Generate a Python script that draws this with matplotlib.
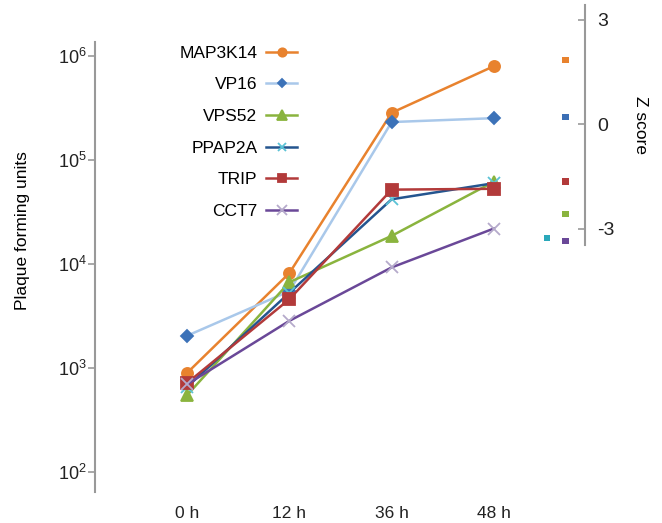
import numpy as np
import matplotlib
matplotlib.use('Agg')
import matplotlib.pyplot as plt

plt.rcParams['font.family'] = ['Liberation Sans', 'DejaVu Sans']
plt.rcParams['mathtext.fontset'] = 'custom'
plt.rcParams['mathtext.rm'] = 'Liberation Sans'
plt.rcParams['mathtext.it'] = 'Liberation Sans'
plt.rcParams['mathtext.bf'] = 'Liberation Sans:bold'
plt.rcParams['axes.unicode_minus'] = False

# data
times = ['0 h', '12 h', '36 h', '48 h']
genes = ['MAP3K14', 'VP16', 'VPS52', 'PPAP2A', 'TRIP', 'CCT7']
map3k14 = [900, 8200, 2.85e5, 8.0e5]
vp16 = [2050, 5500, 2.32e5, 2.53e5]
vps52 = [550, 6700, 1.87e4, 6.2e4]
ppap2a = [660, 5300, 4.2e4, 6.0e4]
trip = [720, 4600, 5.2e4, 5.3e4]
cct7 = [700, 2850, 9.3e3, 2.2e4]
zscores = [1.84, 0.2, -2.58, -3.27, -1.64, -3.36]

series = [map3k14, vp16, vps52, ppap2a, trip, cct7]
line_col = ['#E8822E', '#A9C8EA', '#8AB43E', '#24558F', '#B23A3A', '#6A4898']
mark_col = ['#E8822E', '#3C72B8', '#8AB43E', '#5CC3D6', '#B23A3A', '#B5AACB']
mark = ['o', 'D', '^', 'x', 's', 'x']
msize = [8, 6, 9, 8, 8, 9]
z_col = ['#E8822E', '#3C6FB5', '#8AB43E', '#2AA8BA', '#B23A3A', '#6A4898']

fig = plt.figure(figsize=(6.62, 5.23), dpi=100)
ax = fig.add_axes([95/662, 1-492/523, 490/662, 450/523])
x = np.arange(len(times))
for s, g, lc, mc, m, ms in zip(series, genes, line_col, mark_col, mark, msize):
    ax.plot(x, s, color=lc, lw=1.8, marker=m, ms=ms, mfc=mc, mec=mc,
            mew=1.3, label=g)
ax.set_yscale('log')
ax.set_ylim(10**1.81, 10**6.135)
ax.set_xlim(-0.9, 3.89)
ax.set_xticks(x)
ax.set_xticklabels(times, fontsize=12.5, color='#222222')
ax.tick_params(axis='x', length=0, pad=10)
ax.set_yticks([1e2, 1e3, 1e4, 1e5, 1e6])
ax.yaxis.set_minor_locator(matplotlib.ticker.NullLocator())
ax.tick_params(axis='y', length=5, width=1.2, color='#999999', labelsize=13,
               pad=1, labelcolor='#222222')
for sp in ['top', 'right', 'bottom']:
    ax.spines[sp].set_visible(False)
ax.spines['left'].set_color('#999999')
ax.spines['left'].set_linewidth(1.5)
ax.set_ylabel('Plaque forming units', fontsize=12.5)
ax.yaxis.set_label_coords(-0.133, 0.58)
ax.patch.set_alpha(0)

leg = ax.legend(loc='upper right', bbox_to_anchor=(306/662, 1-37/523),
                bbox_transform=fig.transFigure, frameon=False, markerfirst=False,
                fontsize=12.5, handlelength=1.8, labelspacing=0.95, borderpad=0,
                handletextpad=0.5, markerscale=0.75)

# z score axis
ax2 = fig.add_axes([95/662, 1-245/523, 490/662, 240/523])
ax2.set_xlim(-0.9, 3.89)
ax2.set_ylim(-3.47, 3.42)
z_x = [3.7, 3.7, 3.7, 3.52, 3.7, 3.7]
ax2.scatter(z_x, zscores, marker='s', s=22, c=z_col, linewidths=0)
for sp in ['top', 'left', 'bottom']:
    ax2.spines[sp].set_visible(False)
ax2.spines['right'].set_color('#999999')
ax2.spines['right'].set_linewidth(1.5)
ax2.set_xticks([])
ax2.yaxis.tick_right()
ax2.set_yticks([-3, 0, 3])
ax2.tick_params(axis='y', direction='in', length=5, width=1.2, color='#999999',
                labelsize=14, pad=9, labelcolor='#222222')
ax2.yaxis.set_label_position('right')
ax2.set_ylabel('Z score', fontsize=12.5, rotation=270, labelpad=24)
ax2.patch.set_alpha(0)

fig.savefig('out.png', dpi=100)
